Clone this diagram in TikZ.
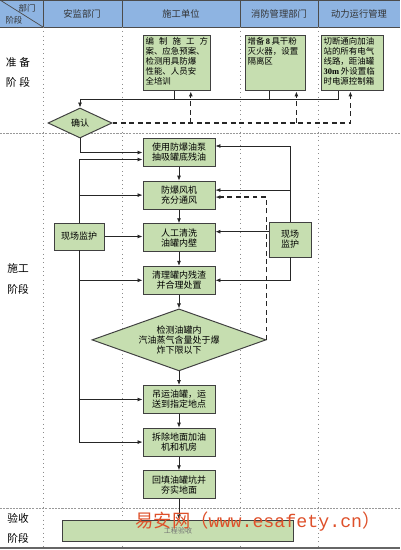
\documentclass[tikz,border=0pt]{standalone}
\usepackage{fontspec}
\setmainfont{Liberation Serif}
\newfontfamily\cjk{Noto Sans CJK SC}
\newfontfamily\wmfont{Liberation Mono}
\usetikzlibrary{arrows.meta,positioning,shapes.geometric,calc}

\definecolor{boxgreen}{RGB}{198,222,176}
\definecolor{headblue}{RGB}{142,180,226}
\definecolor{markred}{RGB}{222,80,42}

\begin{document}
\begin{tikzpicture}[
x=0.025cm, y=-0.025cm,
node distance=0.34cm,
font=\cjk\fontsize{6.4}{7.2}\selectfont,
line/.style={draw=black!85, line width=0.5pt},
arrow/.style={line, -{Latex[length=3.5pt,width=2.8pt]}},
dasharrow/.style={arrow, line width=0.9pt, dash pattern=on 3.5pt off 2.5pt},
stepbox/.style={draw=black!75, line width=0.7pt, fill=boxgreen, align=center, minimum width=1.8cm, minimum height=0.7cm, inner sep=1pt},
prepbox/.style={draw=black!75, line width=0.7pt, fill=boxgreen, inner sep=1.5pt, anchor=north west, font=\cjk\fontsize{6}{7.1}\selectfont},
checkbox/.style={diamond, draw=black!75, line width=0.7pt, fill=boxgreen, align=center, inner sep=0pt},
guardbox/.style={stepbox, minimum width=1.25cm, minimum height=0.675cm},
lanehead/.style={text=black!80, font=\cjk\fontsize{6.6}{8}\selectfont},
stagelabel/.style={font=\cjk\fontsize{7.6}{9}\selectfont},
laneline/.style={draw=black!45, line width=0.5pt, dash pattern=on 0.5pt off 2.6pt},
rowline/.style={draw=black!40, line width=0.5pt, dash pattern=on 1.5pt off 0.8pt}
]
\useasboundingbox (0,0) rectangle (400,550);

% lanes
\fill[headblue] (0,0) rectangle (400,27);
\draw[black!70, line width=0.8pt] (0,0.5) -- (400,0.5);
\draw[black!70, line width=0.6pt] (0,27) -- (400,27);
\draw[black!70, line width=0.5pt] (0,0) -- (43,27);
\foreach \x in {43,122,240,318} {
  \draw[black!70, line width=0.6pt] (\x,0) -- (\x,27);
  \draw[laneline] (\x,27) -- (\x,548);
}
\draw[rowline] (0,133) -- (400,133);
\draw[rowline] (0,508) -- (400,508);
\draw[black!60, line width=1pt] (0,548) -- (400,548);

\node[lanehead, font=\cjk\fontsize{6}{7}\selectfont] (corner1) at (27,8) {部门};
\node[lanehead, font=\cjk\fontsize{6}{7}\selectfont] (corner2) at (14,20) {阶段};
\node[lanehead] (lane1) at (82,14) {安监部门};
\node[lanehead] (lane2) at (181,14) {施工单位};
\node[lanehead] (lane3) at (279,14) {消防管理部门};
\node[lanehead] (lane4) at (359,14) {动力运行管理};

\node[stagelabel] (stage1a) at (18,62) {准\hspace{2pt}备};
\node[stagelabel] (stage1b) at (18,82) {阶\hspace{2pt}段};
\node[stagelabel] (stage2a) at (18,268) {施工};
\node[stagelabel] (stage2b) at (18,289) {阶段};
\node[stagelabel] (stage3a) at (18,518) {验收};
\node[stagelabel] (stage3b) at (18,538) {阶段};

% preparation
\node[prepbox] (plan) at (143,35) {\parbox[t][1.28cm][t]{1.56cm}{编\hfill 制\hfill 施\hfill 工\hfill 方\\案、应急预案、\\检测用具防爆\\性能、人员安\\全培训}};
\node[prepbox] (fire) at (245,35) {\parbox[t][1.28cm][t]{1.39cm}{增备\,{\rmfamily\bfseries 8}\,具干粉\\灭火器，设置\\隔离区}};
\node[prepbox] (cut) at (321,35) {\parbox[t][1.28cm][t]{1.44cm}{切断通向加油\\站的所有电气\\线路，距油罐\\{\rmfamily\bfseries 30m} 外设置临\\时电源控制箱}};
\node[checkbox, minimum width=1.6cm, minimum height=0.75cm, shape aspect=2.1] (ok) at (80,123) {确认};

\coordinate (bus) at (80,99);
\draw[line] ($(cut.south)+(-14,0)$) |- (bus);
\draw[line] ($(fire.south)+(-6,0)$) |- (bus);
\draw[line] ($(plan.south)+(-2,0)$) |- (bus);
\draw[arrow] (bus) -- (ok.north);

\coordinate (backA) at ($(plan.south)+(14,0)$);
\coordinate (backB) at ($(fire.south)+(21,0)$);
\coordinate (backC) at ($(cut.south)+(-2,0)$);
\draw[dasharrow] (ok.east) -| (backC);
\draw[dasharrow] (backA |- ok.east) -- (backA);
\draw[dasharrow] (backB |- ok.east) -- (backB);

% construction
\node[stepbox] (pump) at (179,152.5) {使用防爆油泵\\抽吸罐底残油};
\node[stepbox, below=of pump] (fan) {防爆风机\\充分通风};
\node[stepbox, below=of fan] (wash) {人工清洗\\油罐内壁};
\node[stepbox, below=of wash] (sludge) {清理罐内残渣\\并合理处置};
\node[checkbox, below=of sludge, minimum width=4.35cm, minimum height=1.55cm, shape aspect=2.8] (test) {检测油罐内\\汽油蒸气含量处于爆\\炸下限以下};
\node[stepbox, below=of test] (lift) {吊运油罐，运\\送到指定地点};
\node[stepbox, below=of lift] (remove) {拆除地面加油\\机和机房};
\node[stepbox, below=of remove] (fill) {回填油罐坑并\\夯实地面};
\node[stepbox, minimum width=5.75cm, minimum height=0.525cm, font=\cjk\fontsize{5}{6}\selectfont, text=black!55] (accept) at (178,530.5) {工程验收};

\node[guardbox] (guardL) at (79,236.5) {现场监护};
\node[guardbox, minimum width=1.05cm, minimum height=0.875cm] (guardR) at (290,239.5) {现场\\监护};

\draw[arrow] (ok.south) |- (pump.west);
\draw[arrow] (pump) -- (fan);
\draw[arrow] (fan) -- (wash);
\draw[arrow] (wash) -- (sludge);
\draw[arrow] (sludge) -- (test);
\draw[arrow] (test) -- (lift);
\draw[arrow] (lift) -- (remove);
\draw[arrow] (remove) -- (fill);
\draw[arrow] (fill.south) -- (fill.south |- accept.north);

% site supervision, left
\draw[arrow] (guardL.north) |- ($(pump.west)+(0,7)$);
\draw[arrow] (guardL.north |- fan.west) -- (fan.west);
\draw[arrow] (guardL.east) -- (guardL.east -| wash.west);
\draw[arrow] (guardL.south) |- (remove.west);
\draw[arrow] (guardL.south |- sludge.west) -- (sludge.west);
\draw[arrow] (guardL.south |- lift.west) -- (lift.west);

% site supervision, right
\coordinate (fanR) at ($(fan.east)+(0,-5)$);
\coordinate (washR) at ($(wash.east)+(0,-6)$);
\draw[arrow] (guardR.north) |- ($(pump.east)+(0,-6.5)$);
\draw[arrow] (guardR.north |- fanR) -- (fanR);
\draw[arrow] (guardR.west |- washR) -- (washR);
\draw[arrow] (guardR.south) |- (sludge.east);
\draw[dasharrow] (test.east) |- ($(fan.east)+(0,2)$);

\node[text=markred, font=\cjk\fontsize{13}{14}\selectfont] (mark) at (258,522) {易安网（{\wmfont www.esafety.cn}）};
\end{tikzpicture}
\end{document}
